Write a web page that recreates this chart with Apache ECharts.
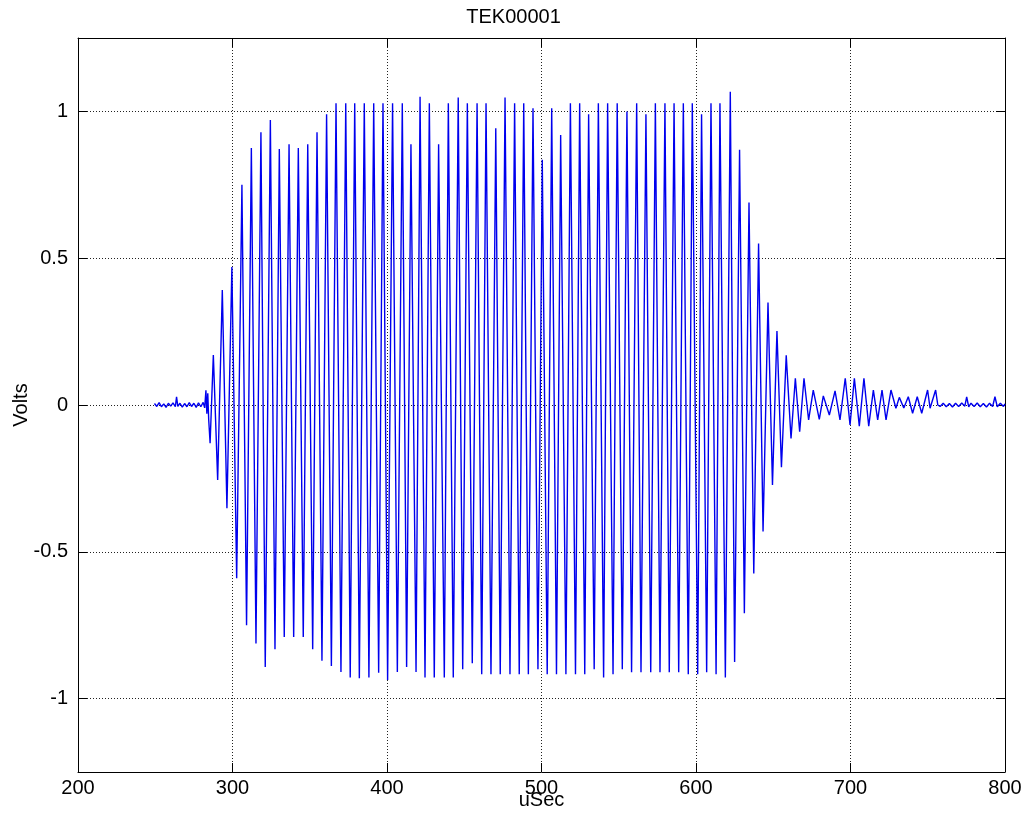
<!DOCTYPE html>
<html>
<head>
<meta charset="utf-8">
<script src="https://cdn.jsdelivr.net/npm/echarts@6/dist/echarts.min.js"></script>
<style>
html,body{margin:0;padding:0;background:#fff;}
#chart{width:1027px;height:815px;}
</style>
</head>
<body>
<div id="chart"></div>
<script>
const chartTitle = 'TEK00001';
const xName = 'uSec';
const yName = 'Volts';
const yTicks = [-1, -0.5, 0, 0.5, 1];

// time (uSec) of each sample
const times = [
  249.5, 251, 252.5, 254, 255.5, 257, 258.5, 260, 261.5, 263, 263.8, 264.6, 266, 267.5, 269, 270.5,
  272, 273.5, 275, 276.5, 278, 279.5, 281, 282, 282.8, 283.4, 284, 284.6, 285.5,
  287.6, 290.4, 293.4, 296.4, 299.6, 302.7, 306.1, 309.1, 312.2, 315.2, 318.4, 321.2,
  324.5, 327.5, 330.3, 333.5, 336.6, 339.6, 342.6, 345.8, 348.7, 351.9, 354.7, 357.9,
  360.9, 364.0, 367.0, 370.2, 373.3, 376.2, 379.1, 382.1, 385.3, 388.3, 391.4, 394.6,
  397.4, 400.4, 403.6, 406.7, 409.9, 412.7, 415.5, 418.8, 421.4, 424.6, 427.4, 430.6,
  433.4, 437.1, 439.7, 442.9, 446.1, 449.0, 452.0, 455.2, 458.3, 461.3, 464.1, 467.3,
  470.4, 473.3, 476.4, 479.6, 482.6, 485.6, 488.5, 491.5, 494.5, 497.7, 500.5, 503.7,
  506.6, 509.7, 512.4, 515.8, 518.7, 522.0, 524.7, 528.0, 530.5, 534.1, 536.8, 540.2,
  542.8, 546.3, 549.0, 552.3, 555.3, 558.3, 561.6, 564.4, 567.6, 570.7, 573.7, 576.7,
  579.9, 582.7, 585.8, 588.8, 591.8, 595.0, 597.6, 601.1, 603.6, 606.9, 609.7, 613.0,
  615.5, 619.0, 622.2, 625.0, 628.2, 631.3, 634.3, 637.4, 640.5, 643.4, 646.6, 649.5,
  652.4, 655.3, 658.4, 661.5, 664.3, 667.1, 669.9, 672.9, 675.9, 679.8, 682.4, 686.3,
  690.0, 693.2, 696.6, 699.7, 702.5, 705.7, 708.7, 711.8, 714.8, 717.6, 720.4, 723.0,
  726.2, 729.4, 731.6, 734.5, 737.4, 740.2, 743.2, 746.1, 749.9, 751.5, 755.1, 756.5,
  758, 760, 762, 764, 766, 768, 770, 772, 774, 775.2, 776.5, 778, 780, 782, 784, 786,
  788, 790, 792, 793.5, 795, 797, 799, 800
];

// voltage of each sample
const volts = [
  0.005, -0.005, 0.008, -0.006, 0.004, -0.008, 0.006, -0.004, 0.007, -0.006, 0.028, -0.005, 0.006, -0.007, 0.005, -0.006,
  0.008, -0.005, 0.006, -0.008, 0.007, -0.006, 0.009, -0.01, 0.05, -0.03, 0.04, -0.05, -0.13,
  0.17, -0.255, 0.392, -0.352, 0.47, -0.59, 0.75, -0.75, 0.875, -0.812, 0.929, -0.892,
  0.971, -0.832, 0.872, -0.79, 0.888, -0.79, 0.875, -0.79, 0.888, -0.832, 0.929, -0.871,
  0.99, -0.889, 1.028, -0.909, 1.028, -0.928, 1.028, -0.931, 1.028, -0.928, 1.028, -0.912,
  1.028, -0.937, 1.028, -0.909, 1.028, -0.892, 0.888, -0.909, 1.05, -0.928, 1.028, -0.928,
  0.888, -0.928, 1.028, -0.928, 1.047, -0.90, 1.028, -0.88, 1.028, -0.917, 1.028, -0.917,
  0.943, -0.917, 1.047, -0.917, 1.028, -0.917, 1.028, -0.917, 1.011, -0.90, 0.835, -0.917,
  1.011, -0.917, 0.92, -0.917, 1.028, -0.917, 1.028, -0.917, 0.99, -0.90, 1.028, -0.928,
  1.028, -0.917, 1.028, -0.90, 1.0, -0.91, 1.028, -0.91, 0.99, -0.91, 1.028, -0.91,
  1.028, -0.91, 1.028, -0.91, 1.028, -0.917, 1.028, -0.917, 0.99, -0.91, 1.028, -0.917,
  1.028, -0.928, 1.067, -0.875, 0.869, -0.709, 0.69, -0.574, 0.55, -0.431, 0.349, -0.272,
  0.252, -0.212, 0.169, -0.114, 0.091, -0.091, 0.091, -0.051, 0.051, -0.049, 0.031, -0.034,
  0.048, -0.051, 0.091, -0.068, 0.091, -0.072, 0.091, -0.072, 0.051, -0.051, 0.051, -0.051,
  0.051, -0.011, 0.026, -0.01, 0.028, -0.028, 0.028, -0.028, 0.051, -0.011, 0.051, 0.0,
  -0.005, 0.006, -0.006, 0.005, -0.007, 0.006, -0.005, 0.007, -0.004, 0.028, -0.006, 0.006, -0.005, 0.007, -0.006, 0.005,
  -0.007, 0.006, -0.005, 0.028, -0.006, 0.006, -0.005, 0.004
];

const FONT = "'Liberation Sans', Arial, Helvetica, sans-serif";
const points = times.map((t, i) => [t, volts[i]]);

const gridStyle = { show: true, lineStyle: { color: '#222', type: [1, 2], width: 1 } };
const frameLine = { show: true, onZero: false, lineStyle: { color: '#000', width: 1 } };
const tickIn = { show: true, inside: true, length: 9, lineStyle: { color: '#000', width: 1 } };

const chart = echarts.init(document.getElementById('chart'), null, { renderer: 'canvas' });
chart.setOption({
  animation: false,
  backgroundColor: '#fff',
  title: {
    text: chartTitle, left: 'center', top: 2,
    textStyle: { fontFamily: FONT, fontSize: 20, fontWeight: 'normal', color: '#000' }
  },
  grid: { left: 78, right: 22, top: 38, bottom: 43, containLabel: false, outerBoundsMode: 'none' },
  xAxis: [
    {
      type: 'value', min: 200, max: 800, interval: 100, position: 'bottom',
      name: xName, nameLocation: 'middle', nameGap: 18, nameMoveOverlap: false,
      nameTextStyle: { fontFamily: FONT, fontSize: 20, color: '#000' },
      axisLine: frameLine, axisTick: tickIn,
      axisLabel: { fontFamily: FONT, fontSize: 20, color: '#000', margin: 6 },
      splitLine: gridStyle
    },
    {
      type: 'value', min: 200, max: 800, interval: 100, position: 'top',
      axisLine: frameLine, axisTick: tickIn, axisLabel: { show: false }, splitLine: { show: false }
    }
  ],
  yAxis: [
    {
      type: 'value', min: -1.25, max: 1.25, position: 'left',
      name: yName, nameLocation: 'middle', nameGap: 47, nameRotate: 90, nameMoveOverlap: false,
      nameTextStyle: { fontFamily: FONT, fontSize: 20, color: '#000' },
      axisLine: frameLine,
      axisTick: Object.assign({ customValues: yTicks }, tickIn),
      axisLabel: { customValues: yTicks, fontFamily: FONT, fontSize: 20, color: '#000', margin: 10 },
      splitLine: gridStyle
    },
    {
      type: 'value', min: -1.25, max: 1.25, position: 'right',
      axisLine: frameLine,
      axisTick: Object.assign({ customValues: yTicks }, tickIn),
      axisLabel: { show: false, customValues: yTicks }, splitLine: { show: false }
    }
  ],
  series: [{
    type: 'line',
    data: points,
    xAxisIndex: 0, yAxisIndex: 0,
    showSymbol: false,
    sampling: null,
    lineStyle: { color: '#0000ee', width: 1.4 },
    itemStyle: { color: '#0000ee' },
    z: 3
  }]
});
</script>
</body>
</html>
